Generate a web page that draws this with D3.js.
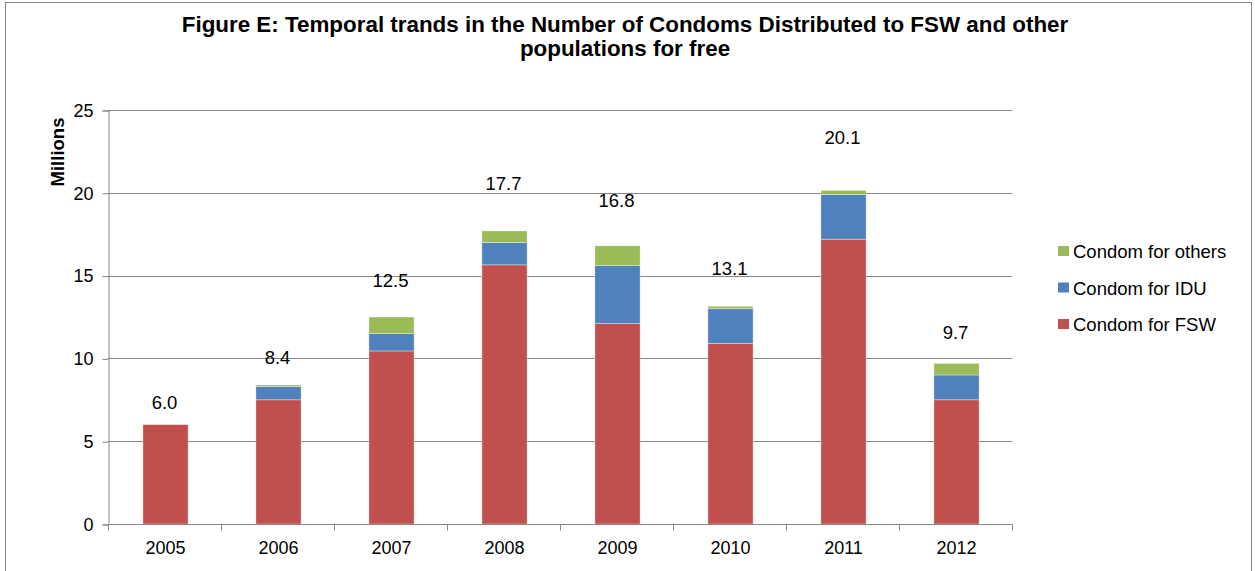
<!DOCTYPE html>
<html><head><meta charset="utf-8">
<script src="https://cdn.jsdelivr.net/npm/d3@7"></script>
<style>
body{margin:0;background:#fff;}
text{font-family:"Liberation Sans",Arial,sans-serif;fill:#000;}
</style></head>
<body>
<svg id="chart" width="1255" height="571"></svg>
<script>
const years = ["2005","2006","2007","2008","2009","2010","2011","2012"];
const fsw    = [6.0, 7.5, 10.45, 15.65, 12.1, 10.9, 17.2, 7.5];
const idu    = [0.0, 0.8, 1.05, 1.35, 3.5, 2.1, 2.7, 1.5];
const others = [0.0, 0.1, 1.0, 0.7, 1.2, 0.15, 0.25, 0.7];
const totalLabels = ["6.0","8.4","12.5","17.7","16.8","13.1","20.1","9.7"];
const seriesNames = ["Condom for FSW","Condom for IDU","Condom for others"];
const yTicks = [0,5,10,15,20,25];
const titleLines = ["Figure E: Temporal trands in the Number of Condoms Distributed to FSW and other","populations for free"];

const colors = ["#C0504D","#4F81BD","#9BBB59"];
const svg = d3.select("#chart");

// outer border
svg.append("rect").attr("x",5.5).attr("y",2.5).attr("width",1246).attr("height",620)
  .attr("fill","none").attr("stroke","#868686").attr("stroke-width",1);

// title
svg.selectAll("text.title").data(titleLines).enter().append("text")
  .attr("class","title").attr("x",625).attr("y",(d,i)=>31.5+i*24)
  .attr("text-anchor","middle").style("font-size","22.4px").style("font-weight","bold").text(d=>d);

const pLeft=108, pRight=1012, pTop=110, pBottom=524;
const x = d3.scaleBand().domain(years).range([pLeft,pRight]).paddingInner(0.6).paddingOuter(0.3);
const xc = d3.scaleBand().domain(years).range([pLeft,pRight]);
const y = d3.scaleLinear().domain([0,25]).range([pBottom,pTop]);

// gridlines
svg.append("g").selectAll("line").data(yTicks.filter(t=>t>0)).enter().append("line")
  .attr("x1",pLeft).attr("x2",pRight).attr("y1",d=>Math.round(y(d))+0.5).attr("y2",d=>Math.round(y(d))+0.5)
  .attr("stroke","#868686").attr("stroke-width",1.2);

// y axis
const yAxis = svg.append("g").attr("transform",`translate(${pLeft+0.5},0.5)`)
  .call(d3.axisLeft(y).tickValues(yTicks).tickSize(6).tickPadding(9).tickFormat(d3.format("d")));
yAxis.selectAll("path,line").attr("stroke","#868686");
yAxis.selectAll("text").style("font-size","18px").style("font-family","Liberation Sans, Arial, sans-serif").attr("fill","#000");

// stacked data
const rows = years.map((yr,i)=>({year:yr, fsw:fsw[i], idu:idu[i], others:others[i]}));
const stack = d3.stack().keys(["fsw","idu","others"])(rows);

svg.append("g").selectAll("g").data(stack).enter().append("g")
  .attr("fill",(d,i)=>colors[i])
  .selectAll("rect").data(d=>d).enter().append("rect")
  .attr("x",d=>x(d.data.year)+1).attr("width",x.bandwidth())
  .attr("y",d=>y(d[1])).attr("height",d=>Math.max(0,y(d[0])-y(d[1])))
  .attr("stroke","rgba(255,255,255,0.5)").attr("stroke-width",0.7);

// x axis
const xAxis = svg.append("g").attr("transform",`translate(0,${pBottom+0.5})`);
xAxis.append("line").attr("x1",pLeft).attr("x2",pRight+1).attr("y1",0).attr("y2",0).attr("stroke","#868686");
const bounds = years.map(yr=>xc(yr)).concat([pRight]);
xAxis.selectAll("line.tk").data(bounds).enter().append("line").attr("class","tk")
  .attr("x1",d=>Math.round(d)+0.5).attr("x2",d=>Math.round(d)+0.5).attr("y1",0).attr("y2",6).attr("stroke","#868686");
xAxis.selectAll("text").data(years).enter().append("text")
  .attr("x",d=>xc(d)+xc.bandwidth()/2+1).attr("y",29.5).attr("text-anchor","middle")
  .style("font-size","18px").text(d=>d);

// total labels
const totals = rows.map(r=>r.fsw+r.idu+r.others);
svg.append("g").selectAll("text").data(years).enter().append("text")
  .attr("x",d=>xc(d)+xc.bandwidth()/2)
  .attr("y",(d,i)=>y(totals[i]*1.13+0.55)+6)
  .attr("text-anchor","middle").style("font-size","18.5px").text((d,i)=>totalLabels[i]);

// y axis title
svg.append("text").attr("transform","translate(64,152) rotate(-90)")
  .attr("text-anchor","middle").style("font-size","18.5px").style("font-weight","bold").text("Millions");

// legend
const legendOrder = [2,1,0];
const lg = svg.append("g").selectAll("g").data(legendOrder).enter().append("g")
  .attr("transform",(d,i)=>`translate(1058,${251+i*36.5})`);
lg.append("rect").attr("x",0).attr("y",-5).attr("width",11).attr("height",10).attr("fill",d=>colors[d]);
lg.append("text").attr("x",15).attr("y",7).style("font-size","18.5px").text(d=>seriesNames[d]);
</script>
</body></html>
